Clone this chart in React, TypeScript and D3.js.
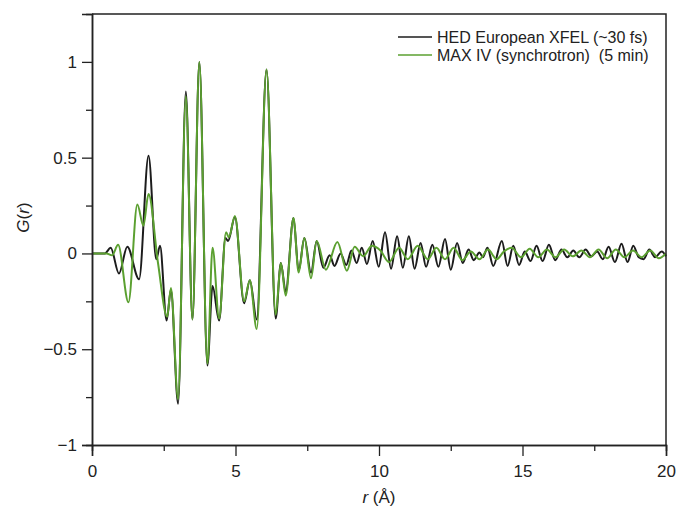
import React, { useEffect, useRef } from "react";
import * as d3 from "d3";

// XFEL (black) curve: r positions and G(r) values at turning points
const xfelR = [
  0, 0.45, 0.65, 0.94, 1.23, 1.64, 1.97, 2.24, 2.37, 2.6, 2.75, 3.0, 3.27, 3.5,
  3.74, 4.02, 4.2, 4.43, 4.65, 4.74, 4.98, 5.3, 5.5, 5.74, 6.08, 6.4, 6.58,
  6.75, 7.02, 7.2, 7.4, 7.63, 7.83, 8.06, 8.28, 8.45, 8.66, 8.86, 9.04, 9.22,
  9.4, 9.58, 9.78, 9.99, 10.21, 10.42, 10.63, 10.83, 11.04, 11.24, 11.45,
  11.64, 11.86, 12.07, 12.3, 12.5, 12.72, 12.92, 13.12, 13.3, 13.5, 13.62,
  13.78, 13.98, 14.28, 14.48, 14.68, 14.88, 15.08, 15.28, 15.49, 15.7, 15.92,
  16.14, 16.36, 16.56, 16.77, 16.98, 17.2, 17.4, 17.6, 17.8, 18.0, 18.22,
  18.45, 18.66, 18.86, 19.05, 19.22, 19.42, 19.62, 19.85, 20.0,
];
const xfelG = [
  0, 0, 0.03, -0.105, 0.035, -0.135, 0.51, -0.03, 0.04, -0.35, -0.19, -0.785,
  0.845, -0.345, 1.0, -0.585, -0.17, -0.35, 0.08, 0.065, 0.19, -0.26, -0.14,
  -0.345, 0.96, -0.34, -0.05, -0.2, 0.185, -0.09, 0.08, -0.1, 0.065, -0.075,
  -0.01, -0.065, 0.0, -0.06, 0.015, -0.05, 0.03, -0.055, 0.065, -0.07, 0.11,
  -0.08, 0.09, -0.075, 0.09, -0.08, 0.055, -0.07, 0.045, -0.07, 0.075, -0.085,
  0.055, -0.05, 0.02, -0.035, 0.005, -0.02, 0.03, -0.065, 0.065, -0.065, 0.04,
  -0.06, 0.01, -0.04, 0.04, -0.04, 0.045, -0.035, 0.02, -0.02, 0.015, -0.02,
  0.02, -0.015, 0.01, -0.03, 0.035, -0.045, 0.05, -0.045, 0.04, -0.02, -0.03,
  0.02, -0.02, 0.01, -0.015,
];

// MAX IV (green) curve
const maxR = [
  0, 0.5, 0.7, 0.91, 1.27, 1.58, 1.79, 1.97, 2.3, 2.62, 2.75, 3.0, 3.27, 3.5,
  3.74, 4.02, 4.2, 4.43, 4.67, 4.77, 4.98, 5.3, 5.5, 5.74, 6.08, 6.4, 6.58,
  6.75, 7.02, 7.2, 7.4, 7.63, 7.83, 8.15, 8.55, 8.88, 9.15, 9.45, 9.75, 10.05,
  10.35, 10.7, 11.0, 11.35, 11.7, 12.0, 12.3, 12.6, 12.9, 13.2, 13.5, 13.8,
  14.1, 14.35, 14.62, 14.95, 15.25, 15.55, 15.85, 16.15, 16.45, 16.75, 17.05,
  17.35, 17.65, 17.95, 18.25, 18.55, 18.85, 19.15, 19.45, 19.75, 20.0,
];
const maxG = [
  0, 0, -0.01, 0.045, -0.255, 0.255, 0.145, 0.31, -0.05, -0.33, -0.18, -0.76,
  0.82, -0.345, 1.0, -0.575, 0.03, -0.34, 0.11, 0.085, 0.195, -0.25, -0.14,
  -0.395, 0.96, -0.32, -0.05, -0.22, 0.185, -0.1, 0.08, -0.13, 0.065, -0.085,
  0.06, -0.09, 0.035, -0.015, 0.04, 0.015, -0.045, 0.03, -0.03, 0.04, -0.03,
  0.03, -0.03, 0.03, -0.035, 0.01, -0.03, 0.02, -0.03, 0.01, 0.03, -0.02,
  0.025, -0.02, 0.02, -0.02, 0.02, -0.015, 0.015, -0.02, 0.02, -0.025, 0.02,
  -0.02, 0.015, -0.02, 0.015, -0.025, 0.0,
];

const xMajor = [0, 5, 10, 15, 20];
const xMinor = [2.5, 7.5, 12.5, 17.5];
const yMajor = [-1, -0.5, 0, 0.5, 1];
const yMinor = [-0.75, -0.25, 0.25, 0.75];

const legendLabels = ["HED European XFEL (~30 fs)", "MAX IV (synchrotron)  (5 min)"];
const lineColors = ["#1c1c1c", "#5ba030"];

const W = 680;
const H = 508;
const margin = { left: 92, right: 14, top: 14, bottom: 63 };
const font = "'Liberation Sans', Arial, Helvetica, sans-serif";

const App = () => {
  const ref = useRef<SVGSVGElement>(null);

  useEffect(() => {
    const svg = d3.select(ref.current);
    svg.selectAll("*").remove();

    const x = d3.scaleLinear().domain([0, 20]).range([margin.left, W - margin.right]);
    const y = d3.scaleLinear().domain([-1, 1.25]).range([H - margin.bottom, margin.top]);

    const line = d3
      .line<[number, number]>()
      .x((d) => x(d[0]))
      .y((d) => y(d[1]))
      .curve(d3.curveMonotoneX);

    const series = [
      xfelR.map((r, i) => [r, xfelG[i]] as [number, number]),
      maxR.map((r, i) => [r, maxG[i]] as [number, number]),
    ];

    series.forEach((pts, i) => {
      svg
        .append("path")
        .attr("d", line(pts))
        .attr("fill", "none")
        .attr("stroke", lineColors[i])
        .attr("stroke-width", 2)
        .attr("stroke-linejoin", "round");
    });

    // frame: top and right
    svg
      .append("path")
      .attr("d", `M${x(0)},${y(1.25)}H${x(20)}V${y(-1)}`)
      .attr("fill", "none")
      .attr("stroke", "#222")
      .attr("stroke-width", 1.5);

    const styleAxis = (g: any) => {
      g.select(".domain").attr("stroke", "#222").attr("stroke-width", 1.5);
      g.selectAll(".tick line").attr("stroke", "#222").attr("stroke-width", 1.3);
      g.selectAll("text").attr("fill", "#222").style("font-family", font).style("font-size", "17px");
    };

    const fmt = d3.format("~g");

    svg
      .append("g")
      .attr("transform", `translate(0,${y(-1)})`)
      .call(d3.axisBottom(x).tickValues(xMinor).tickSize(6).tickFormat(() => ""))
      .call(styleAxis);
    svg
      .append("g")
      .attr("transform", `translate(0,${y(-1)})`)
      .call(d3.axisBottom(x).tickValues(xMajor).tickSize(11).tickPadding(9).tickFormat(fmt as any))
      .call(styleAxis);

    svg
      .append("g")
      .attr("transform", `translate(${x(0)},0)`)
      .call(d3.axisLeft(y).tickValues(yMinor).tickSize(6).tickFormat(() => ""))
      .call(styleAxis);
    svg
      .append("g")
      .attr("transform", `translate(${x(0)},0)`)
      .call(d3.axisLeft(y).tickValues(yMajor).tickSize(10).tickPadding(5).tickFormat(fmt as any))
      .call(styleAxis);

    // axis titles
    const xt = svg
      .append("text")
      .attr("x", (x(0) + x(20)) / 2)
      .attr("y", 503)
      .attr("text-anchor", "middle")
      .style("font-family", font)
      .style("font-size", "17px")
      .attr("fill", "#222");
    xt.append("tspan").attr("font-style", "italic").text("r");
    xt.append("tspan").text(" (Å)");

    const yt = svg
      .append("text")
      .attr("transform", `translate(29,${(y(-1) + y(1.25)) / 2 - 12}) rotate(-90)`)
      .attr("text-anchor", "middle")
      .style("font-family", font)
      .style("font-size", "17px")
      .attr("fill", "#222");
    yt.append("tspan").attr("font-style", "italic").text("G");
    yt.append("tspan").text("(");
    yt.append("tspan").attr("font-style", "italic").text("r");
    yt.append("tspan").text(")");

    // legend
    legendLabels.forEach((lab, i) => {
      const ly = 37 + i * 18;
      svg
        .append("line")
        .attr("x1", 398)
        .attr("x2", 432)
        .attr("y1", ly)
        .attr("y2", ly)
        .attr("stroke", lineColors[i])
        .attr("stroke-width", 1.6);
      svg
        .append("text")
        .attr("x", 437)
        .attr("y", ly + 5.5)
        .style("font-family", font)
        .style("font-size", "16px")
        .style("white-space", "pre")
        .attr("fill", "#222")
        .text(lab);
    });
  }, []);

  return (
    <div style={{ position: "absolute", left: 0, top: 0 }}>
      <svg ref={ref} width={W} height={H} style={{ display: "block", background: "#fff" }}></svg>
    </div>
  );
};

export default App;
